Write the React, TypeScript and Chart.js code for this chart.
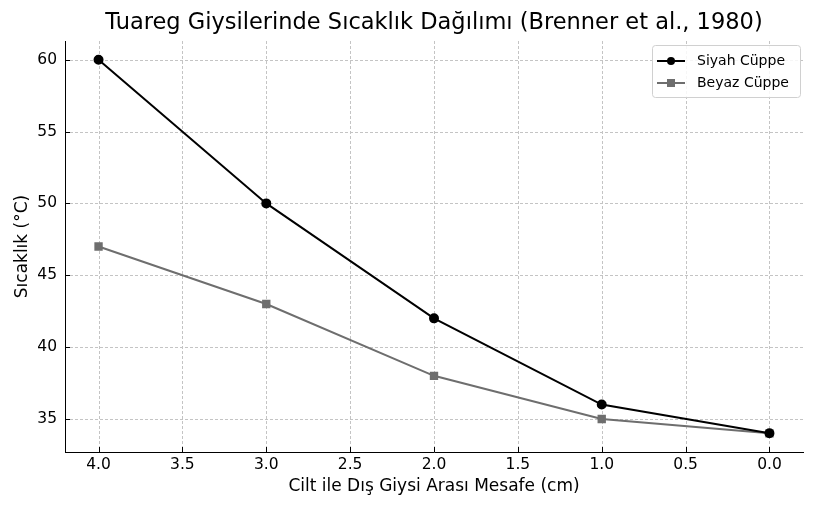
import React, { useEffect, useRef } from "react";
import { Chart, registerables } from "chart.js";

Chart.register(...registerables);

const distances = [4.0, 3.0, 2.0, 1.0, 0.0];
const blackRobe = [60, 50, 42, 36, 34];
const whiteRobe = [47, 43, 38, 35, 34];
const xTicks = [4.0, 3.5, 3.0, 2.5, 2.0, 1.5, 1.0, 0.5, 0.0];
const yTicks = [35, 40, 45, 50, 55, 60];
const seriesNames = ["Siyah Cüppe", "Beyaz Cüppe"];
const titleText = "Tuareg Giysilerinde Sıcaklık Dağılımı (Brenner et al., 1980)";
const xTitle = "Cilt ile Dış Giysi Arası Mesafe (cm)";
const yTitle = "Sıcaklık (°C)";

const FONT = "'DejaVu Sans', sans-serif";
const BLACK = "#000000";
const GRAY = "#6e6e6e";

export default function App() {
  const ref = useRef<HTMLCanvasElement | null>(null);

  useEffect(() => {
    document.body.style.margin = "0";
    const canvas = ref.current;
    if (!canvas) return;

    const gridPlugin = {
      id: "dashedGrid",
      beforeDatasetsDraw(chart: any) {
        const ctx = chart.ctx;
        const area = chart.chartArea;
        const xs = chart.scales.x;
        const ys = chart.scales.y;
        ctx.save();
        ctx.strokeStyle = "#c4c4c4";
        ctx.lineWidth = 1;
        ctx.setLineDash([3, 2]);
        ctx.beginPath();
        for (const v of xTicks) {
          const px = Math.round(xs.getPixelForValue(v)) + 0.5;
          ctx.moveTo(px, area.top);
          ctx.lineTo(px, area.bottom);
        }
        for (const v of yTicks) {
          const py = Math.round(ys.getPixelForValue(v)) + 0.5;
          ctx.moveTo(area.left, py);
          ctx.lineTo(area.right, py);
        }
        ctx.stroke();
        ctx.restore();
      },
    };

    const overlay = {
      id: "overlay",
      afterDraw(chart: any) {
        const ctx = chart.ctx;
        const area = chart.chartArea;
        const xs = chart.scales.x;
        const ys = chart.scales.y;
        ctx.save();
        // title
        ctx.fillStyle = "#000";
        ctx.font = `22.5px ${FONT}`;
        ctx.textAlign = "center";
        ctx.textBaseline = "middle";
        ctx.fillText(titleText, (area.left + area.right) / 2, 23);
        // inward ticks
        ctx.strokeStyle = "#000";
        ctx.lineWidth = 1;
        ctx.beginPath();
        for (const v of xTicks) {
          const px = Math.round(xs.getPixelForValue(v)) + 0.5;
          ctx.moveTo(px, area.bottom);
          ctx.lineTo(px, area.bottom - 5);
        }
        for (const v of yTicks) {
          const py = Math.round(ys.getPixelForValue(v)) + 0.5;
          ctx.moveTo(area.left, py);
          ctx.lineTo(area.left + 5, py);
        }
        ctx.stroke();
        // legend
        const bx = 652, by = 45, bw = 148, bh = 52;
        ctx.fillStyle = "rgba(255,255,255,0.85)";
        ctx.strokeStyle = "#d0d0d0";
        ctx.lineWidth = 1;
        ctx.beginPath();
        (ctx as any).roundRect ? (ctx as any).roundRect(bx + 0.5, by + 0.5, bw, bh, 3) : ctx.rect(bx + 0.5, by + 0.5, bw, bh);
        ctx.fill();
        ctx.stroke();
        const items = [
          { name: seriesNames[0], color: BLACK, shape: "circle" },
          { name: seriesNames[1], color: GRAY, shape: "square" },
        ];
        items.forEach((it, i) => {
          const y = 61 + i * 22;
          ctx.strokeStyle = it.color;
          ctx.lineWidth = 2;
          ctx.beginPath();
          ctx.moveTo(657, y);
          ctx.lineTo(685, y);
          ctx.stroke();
          ctx.fillStyle = it.color;
          if (it.shape === "circle") {
            ctx.beginPath();
            ctx.arc(671, y, 4, 0, Math.PI * 2);
            ctx.fill();
          } else {
            ctx.fillRect(667, y - 4, 8, 8);
          }
          ctx.fillStyle = "#000";
          ctx.font = `14px ${FONT}`;
          ctx.textAlign = "left";
          ctx.textBaseline = "middle";
          ctx.fillText(it.name, 697, y);
        });
        ctx.restore();
      },
    };

    const chart = new Chart(canvas, {
      type: "line",
      data: {
        datasets: [
          {
            label: seriesNames[0],
            data: distances.map((d, i) => ({ x: d, y: blackRobe[i] })),
            borderColor: BLACK,
            backgroundColor: BLACK,
            borderWidth: 2,
            pointStyle: "circle",
            pointRadius: 4,
            pointHoverRadius: 4,
            tension: 0,
          },
          {
            label: seriesNames[1],
            data: distances.map((d, i) => ({ x: d, y: whiteRobe[i] })),
            borderColor: GRAY,
            backgroundColor: GRAY,
            borderWidth: 2,
            pointStyle: "rect",
            pointRadius: 4.5,
            pointHoverRadius: 4.5,
            tension: 0,
          },
        ],
      },
      options: {
        animation: false,
        responsive: false,
        events: [],
        layout: { padding: { left: 0, right: 16, top: 41, bottom: 0 } },
        plugins: {
          legend: { display: false },
          title: { display: false },
          tooltip: { enabled: false },
        },
        scales: {
          x: {
            type: "linear",
            reverse: true,
            min: -0.2,
            max: 4.2,
            afterBuildTicks: (s: any) => {
              s.ticks = xTicks.map((v) => ({ value: v }));
            },
            afterFit: (s: any) => {
              s.height = 60;
            },
            ticks: {
              color: "#000",
              font: { family: FONT, size: 15.5 },
              padding: 4,
              callback: (v: any) => Number(v).toFixed(1),
            },
            grid: { display: false, drawTicks: false },
            border: { display: true, color: "#000", width: 1 },
            title: {
              display: true,
              text: xTitle,
              color: "#000",
              font: { family: FONT, size: 17 },
              padding: { top: 0, bottom: 15 },
            },
          },
          y: {
            type: "linear",
            min: 32.7,
            max: 61.3,
            afterBuildTicks: (s: any) => {
              s.ticks = yTicks.map((v) => ({ value: v }));
            },
            afterFit: (s: any) => {
              s.width = 65;
            },
            ticks: {
              color: "#000",
              font: { family: FONT, size: 15.5 },
              padding: 8,
            },
            grid: { display: false, drawTicks: false },
            border: { display: true, color: "#000", width: 1 },
            title: {
              display: true,
              text: yTitle,
              color: "#000",
              font: { family: FONT, size: 17 },
              padding: { top: 12, bottom: 0 },
            },
          },
        },
      },
      plugins: [gridPlugin, overlay],
    } as any);

    return () => chart.destroy();
  }, []);

  return (
    <div style={{ width: 819, height: 512 }}>
      <canvas ref={ref} width={819} height={512} style={{ width: 819, height: 512, display: "block" }} />
    </div>
  );
}
